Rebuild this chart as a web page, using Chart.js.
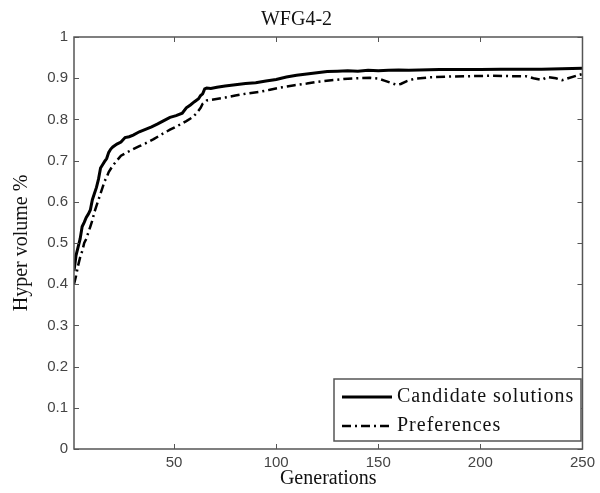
<!DOCTYPE html>
<html>
<head>
<meta charset="utf-8">
<script src="https://cdn.jsdelivr.net/npm/chart.js@4.4.1/dist/chart.umd.min.js"></script>
<style>
  html, body { margin: 0; padding: 0; background: #fff; }
  #wrap { width: 600px; height: 493px; }
</style>
</head>
<body>
<div id="wrap"><canvas id="hvChart" width="600" height="493"></canvas></div>
<script>
const genCand = [1, 2, 3, 4, 5, 6, 7, 8, 9, 10, 11, 12, 13, 14, 15, 16, 17, 18, 19, 20, 22, 24, 26, 28, 30, 33, 36, 39, 42, 45, 48, 51, 54, 56, 58, 60, 62, 63, 64, 65, 66, 68, 71, 75, 80, 85, 90, 95, 100, 105, 110, 115, 120, 125, 130, 135, 140, 145, 150, 155, 160, 165, 170, 180, 190, 200, 210, 220, 230, 240, 250];
const hvCand = [0.432, 0.47, 0.49, 0.51, 0.54, 0.55, 0.562, 0.57, 0.58, 0.605, 0.62, 0.635, 0.655, 0.682, 0.69, 0.698, 0.705, 0.72, 0.728, 0.733, 0.74, 0.745, 0.756, 0.758, 0.762, 0.77, 0.776, 0.782, 0.789, 0.797, 0.805, 0.809, 0.815, 0.828, 0.835, 0.843, 0.85, 0.858, 0.862, 0.874, 0.876, 0.875, 0.878, 0.881, 0.884, 0.887, 0.889, 0.893, 0.897, 0.903, 0.907, 0.91, 0.913, 0.916, 0.917, 0.918, 0.917, 0.919, 0.918, 0.919, 0.92, 0.919, 0.92, 0.921, 0.921, 0.921, 0.922, 0.922, 0.922, 0.923, 0.924];

const genPref = [1, 2, 3, 4, 5, 6, 7, 8, 9, 10, 11, 12, 13, 14, 15, 16, 17, 18, 20, 22, 24, 27, 30, 33, 36, 40, 44, 48, 52, 56, 59, 61, 63, 64, 66, 70, 75, 80, 86, 92, 97, 103, 109, 115, 120, 127, 133, 140, 146, 150, 153, 156, 159, 161, 164, 168, 175, 185, 195, 205, 215, 222, 226, 230, 233, 237, 240, 243, 247, 250];
const hvPref = [0.40, 0.42, 0.445, 0.465, 0.48, 0.50, 0.51, 0.525, 0.54, 0.555, 0.575, 0.59, 0.605, 0.62, 0.635, 0.65, 0.66, 0.672, 0.688, 0.70, 0.712, 0.72, 0.728, 0.735, 0.742, 0.752, 0.764, 0.775, 0.785, 0.796, 0.805, 0.815, 0.828, 0.838, 0.846, 0.849, 0.853, 0.858, 0.863, 0.867, 0.872, 0.878, 0.883, 0.887, 0.891, 0.895, 0.898, 0.9, 0.901, 0.899, 0.894, 0.889, 0.884, 0.886, 0.893, 0.899, 0.902, 0.904, 0.905, 0.906, 0.905, 0.905, 0.9, 0.896, 0.903, 0.9, 0.895, 0.9, 0.906, 0.91];

const xTicks = [50, 100, 150, 200, 250];
const seriesNames = ['Candidate solutions', 'Preferences'];

const toPts = (xs, ys) => xs.map((g, i) => ({ x: g, y: ys[i] }));

const axisColor = '#555';
const serif = '"Liberation Serif", "Times New Roman", serif';
const sans = '"Liberation Sans", Arial, sans-serif';

// MATLAB style box, inward ticks and legend inside the axes
const matlabFrame = {
    id: 'matlabFrame',
    afterDraw(chart) {
        const { ctx, chartArea: a, scales } = chart;
        const xs = scales.x, ys = scales.y;
        ctx.save();
        ctx.strokeStyle = axisColor;
        ctx.lineWidth = 1.5;
        ctx.strokeRect(a.left, a.top, a.right - a.left, a.bottom - a.top);
        ctx.lineWidth = 1;
        ctx.beginPath();
        xTicks.forEach(t => {
            const px = Math.round(xs.getPixelForValue(t)) + 0.5;
            ctx.moveTo(px, a.bottom); ctx.lineTo(px, a.bottom - 5);
            ctx.moveTo(px, a.top); ctx.lineTo(px, a.top + 5);
        });
        ys.ticks.forEach(t => {
            const py = Math.round(ys.getPixelForValue(t.value)) + 0.5;
            ctx.moveTo(a.left, py); ctx.lineTo(a.left + 5, py);
            ctx.moveTo(a.right, py); ctx.lineTo(a.right - 5, py);
        });
        ctx.stroke();

        // legend
        const bx = 334, by = 379, bw = 247, bh = 62;
        ctx.fillStyle = '#fff';
        ctx.fillRect(bx, by, bw, bh);
        ctx.strokeStyle = axisColor;
        ctx.lineWidth = 1.5;
        ctx.strokeRect(bx, by, bw, bh);
        const rows = [by + 18, by + 47];
        chart.data.datasets.forEach((ds, i) => {
            const ry = rows[i];
            ctx.strokeStyle = ds.borderColor;
            ctx.lineWidth = ds.borderWidth;
            ctx.setLineDash(ds.borderDash || []);
            ctx.beginPath();
            ctx.moveTo(342, ry); ctx.lineTo(392, ry);
            ctx.stroke();
            ctx.setLineDash([]);
            ctx.fillStyle = '#111';
            ctx.font = '20px ' + serif;
            ctx.letterSpacing = '1px';
            ctx.textBaseline = 'middle';
            ctx.textAlign = 'left';
            ctx.fillText(ds.label, 397, ry);
        });
        ctx.restore();
    }
};

new Chart(document.getElementById('hvChart'), {
    type: 'line',
    data: {
        datasets: [{
            label: seriesNames[0],
            data: toPts(genCand, hvCand),
            borderColor: '#000',
            borderWidth: 3,
            pointRadius: 0,
            tension: 0
        }, {
            label: seriesNames[1],
            data: toPts(genPref, hvPref),
            borderColor: '#000',
            borderWidth: 2.5,
            borderDash: [9, 4, 2, 4],
            pointRadius: 0,
            tension: 0
        }]
    },
    options: {
        responsive: false,
        animation: false,
        layout: { padding: { left: 0, right: 7, top: 0, bottom: 0 } },
        plugins: {
            legend: { display: false },
            tooltip: { enabled: false },
            title: {
                display: true,
                text: 'WFG4-2',
                color: '#111',
                font: { family: serif, size: 20, weight: 'normal' },
                padding: { top: 8, bottom: 5 }
            }
        },
        scales: {
            x: {
                type: 'linear',
                min: 1,
                max: 250,
                afterBuildTicks: s => { s.ticks = xTicks.map(v => ({ value: v })); },
                afterFit: s => { s.height = 44; },
                grid: { display: false, drawTicks: false },
                border: { display: false },
                ticks: { color: '#444', font: { family: sans, size: 15 }, padding: 5, maxRotation: 0 },
                title: {
                    display: true,
                    text: 'Generations',
                    color: '#111',
                    font: { family: serif, size: 20 },
                    padding: { top: 0, bottom: 2 }
                }
            },
            y: {
                min: 0,
                max: 1,
                afterFit: s => { s.width = 74; },
                grid: { display: false, drawTicks: false },
                border: { display: false },
                ticks: {
                    stepSize: 0.1,
                    color: '#444',
                    font: { family: sans, size: 15 },
                    padding: 6,
                    callback: v => (v === 0 || v === 1) ? String(v) : v.toFixed(1)
                },
                title: {
                    display: true,
                    text: 'Hyper volume %',
                    color: '#111',
                    font: { family: serif, size: 20 },
                    padding: { top: 10, bottom: 0 }
                }
            }
        }
    },
    plugins: [matlabFrame]
});
</script>
</body>
</html>
